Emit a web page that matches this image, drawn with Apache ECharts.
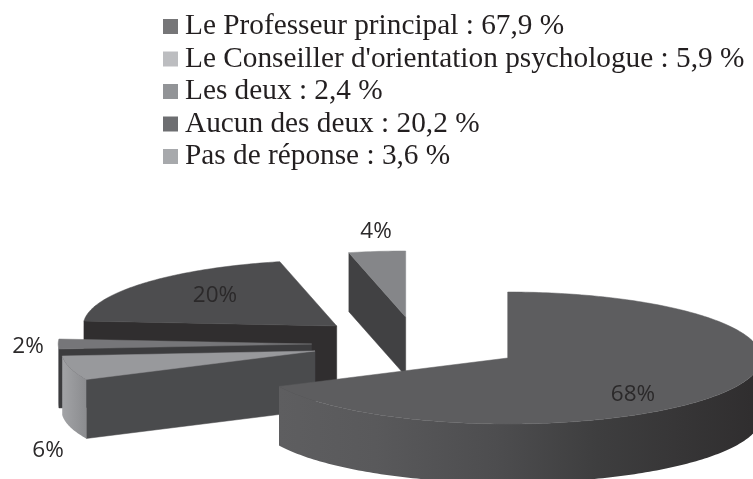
<!DOCTYPE html>
<html>
<head>
<meta charset="utf-8">
<style>
  html, body { margin: 0; padding: 0; background: #fff; }
  #chart { width: 753px; height: 479px; }
</style>
<script src="https://cdn.jsdelivr.net/npm/echarts@6/dist/echarts.min.js"></script>
</head>
<body>
<div id="chart"></div>
<script>
const categories = ['Le Professeur principal', "Le Conseiller d'orientation psychologue", 'Les deux', 'Aucun des deux', 'Pas de réponse']
const shares = [67.9, 5.9, 2.4, 20.2, 3.6]

// layout of the exploded pie, one entry per slice
const centers = [[507.7, 358], [315, 351], [311.7, 344], [336.7, 326], [405.7, 317]]
const labelPos = [[633, 395], [48, 451], [28, 347], [215, 296], [376, 232]]
const radiusX = 253.5
const radiusY = 66
const depth = 59

const swatchColors = ['#767678', '#bcbdc0', '#929497', '#6d6e71', '#a7a9ac']
const topColors = ['#5d5d5f', '#98999c', '#767679', '#4d4d4f', '#858689']
const wallColors = ['#414143', '#4a4b4d', '#3c3c3e', '#302e2f', '#414143']
const rimStops = [
  [[0, '#5e5e60'], [0.2, '#59595b'], [0.45, '#4d4d4f'], [0.66, '#3e3e3f'], [1, '#2f2d2e']],
  [[0, '#a2a3a6'], [1, '#8b8c8f']],
  [[0, '#767679'], [1, '#767679']],
  [[0, '#302e2f'], [1, '#302e2f']],
  [[0, '#414143'], [1, '#414143']]
]

const toRad = deg => deg * Math.PI / 180
const total = shares.reduce((a, b) => a + b, 0)

// clockwise from 12 o'clock
const startAngles = shares.map((_, i) => shares.slice(0, i).reduce((a, b) => a + b, 0) / total * 360)
const endAngles = shares.map((v, i) => startAngles[i] + v / total * 360)

function rimPoint(i, deg, drop) {
  const [cx, cy] = centers[i]
  return [cx + radiusX * Math.sin(toRad(deg)), cy - radiusY * Math.cos(toRad(deg)) + drop]
}

function arcPoints(i, from, to, drop) {
  const pts = []
  for (let d = from; d < to; d += 1) pts.push(rimPoint(i, d, drop))
  pts.push(rimPoint(i, to, drop))
  return pts
}

function renderSlice(i) {
  const [cx, cy] = centers[i]
  const s = startAngles[i]
  const e = endAngles[i]
  const children = []

  // only the cut face turned to the viewer is drawn
  if (Math.sin(toRad(s)) < -0.001) {
    children.push({
      type: 'polygon',
      shape: { points: [rimPoint(i, s, 0), [cx, cy], [cx, cy + depth], rimPoint(i, s, depth)] },
      style: { fill: wallColors[i], stroke: wallColors[i], lineWidth: 0.5 }
    })
  }

  // outer rim is visible on the front half only
  const from = Math.max(s, 90)
  const to = Math.min(e, 270)
  if (to > from) {
    const top = arcPoints(i, from, to, 0)
    const bottom = arcPoints(i, from, to, depth).reverse()
    children.push({
      type: 'polygon',
      shape: { points: top.concat(bottom) },
      style: {
        fill: {
          type: 'linear', x: 0, y: 0, x2: 1, y2: 0,
          colorStops: rimStops[i].map(([offset, color]) => ({ offset, color }))
        }
      }
    })
  }

  children.push({
    type: 'polygon',
    shape: { points: [[cx, cy]].concat(arcPoints(i, s, e, 0)) },
    style: { fill: topColors[i], stroke: topColors[i], lineWidth: 0.5 }
  })

  children.push({
    type: 'text',
    x: labelPos[i][0],
    y: labelPos[i][1],
    style: {
      text: Math.round(shares[i]) + '%',
      fill: '#2b292a',
      font: '22.5px "Open Sans"',
      align: 'center',
      verticalAlign: 'middle'
    }
  })

  return { type: 'group', children }
}

const chart = echarts.init(document.getElementById('chart'))

// back to front, the big slice sits on top of the others
const drawOrder = [4, 3, 2, 1, 0]

chart.setOption({
  animation: false,
  backgroundColor: '#fff',
  legend: {
    data: categories,
    orient: 'vertical',
    left: 163,
    top: 12,
    padding: 0,
    icon: 'rect',
    itemWidth: 15,
    itemHeight: 15,
    itemGap: 3.5,
    selectedMode: false,
    formatter: name => {
      const v = shares[categories.indexOf(name)]
      return name + ' : ' + String(v).replace('.', ',') + ' %'
    },
    textStyle: {
      fontFamily: '"Liberation Serif"',
      fontSize: 29.3,
      lineHeight: 29,
      color: '#231f20',
      padding: [0, 0, 0, 2]
    }
  },
  series: drawOrder.map(i => ({
    type: 'custom',
    name: categories[i],
    coordinateSystem: 'none',
    silent: true,
    itemStyle: { color: swatchColors[i] },
    data: [shares[i]],
    renderItem: () => renderSlice(i)
  }))
})
</script>
</body>
</html>
